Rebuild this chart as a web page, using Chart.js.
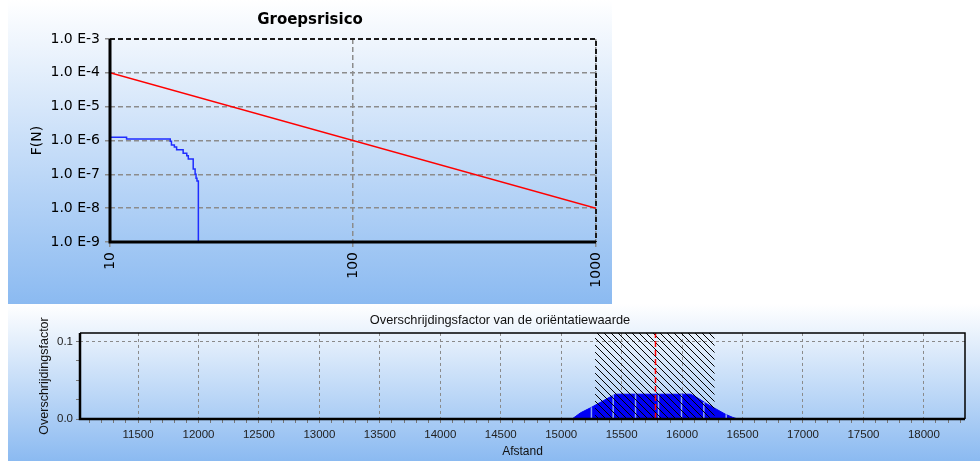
<!DOCTYPE html>
<html>
<head>
<meta charset="utf-8">
<script src="https://cdn.jsdelivr.net/npm/chart.js@4"></script>
<style>
  html, body { margin: 0; padding: 0; background: #ffffff; }
  body { width: 980px; height: 461px; position: relative; overflow: hidden; }
  .panel { position: absolute; background: linear-gradient(to bottom, #ffffff 0%, #8bbaf1 100%); }
  #p1 { left: 8px; top: 0; width: 604px; height: 304px; }
  #p2 { left: 8px; top: 304px; width: 972px; height: 157px; }
  canvas { display: block; }
</style>
</head>
<body>
<div class="panel" id="p1"><canvas id="c1" width="604" height="304"></canvas></div>
<div class="panel" id="p2"><canvas id="c2" width="972" height="157"></canvas></div>
<script>
// ---- Groepsrisico (FN-curve) ----
const groepsN = [10, 11.7, 17.7, 17.9, 18.4, 18.8, 20.0, 20.7, 21.0, 22.0, 22.4, 22.6, 22.8, 23.1, 24.2];
const groepsF = [1.56e-6, 1.24e-6, 1.11e-6, 9.5e-7, 7.4e-7, 6.4e-7, 5.35e-7, 4.2e-7, 3.55e-7, 2.84e-7, 1.44e-7, 1.0e-7, 7.6e-8, 6.3e-8, 1e-9];
const normN = [10, 1000];
const normF = [1e-4, 1e-8];
const fTicks = [1e-9, 1e-8, 1e-7, 1e-6, 1e-5, 1e-4, 1e-3];
const nTicks = [10, 100, 1000];

// ---- Overschrijdingsfactor along the route ----
const afstand = [15090, 15160, 15250, 15330, 15400, 15450, 16070, 16120, 16200, 16280, 16360, 16420, 16460];
const factor  = [0, 0.008, 0.015, 0.022, 0.028, 0.032, 0.032, 0.028, 0.020, 0.013, 0.006, 0.002, 0];
const stripX  = [15250, 15430, 15615, 15805, 15995, 16180, 16365];
const stripY  = [0.015, 0.031, 0.032, 0.032, 0.032, 0.022, 0.006];
const hatchX  = [15280, 16270];
const refX    = 15780;
const afstandMin = 11020, afstandMax = 18340;
const factorMax = 0.111;
const afstandLabels = [11500, 12000, 12500, 13000, 13500, 14000, 14500, 15000, 15500, 16000, 16500, 17000, 17500, 18000];
const afstandMinor = 100;
const factorLabels = [0, 0.1];
const factorMinor = [0, 0.025, 0.05, 0.075, 0.1];

const pts = (xs, ys) => xs.map((x, i) => ({ x, y: ys[i] }));

const frameTop = {
  id: 'frameTop',
  afterDatasetsDraw(chart) {
    const { ctx, chartArea: a } = chart;
    ctx.save();
    ctx.strokeStyle = '#1a1a1a'; ctx.lineWidth = 2; ctx.setLineDash([5, 3]);
    ctx.beginPath(); ctx.moveTo(a.left, a.top); ctx.lineTo(a.right, a.top); ctx.lineTo(a.right, a.bottom); ctx.stroke();
    ctx.setLineDash([]); ctx.strokeStyle = '#000'; ctx.lineWidth = 3;
    ctx.beginPath(); ctx.moveTo(a.left, a.top); ctx.lineTo(a.left, a.bottom); ctx.lineTo(a.right, a.bottom); ctx.stroke();
    ctx.restore();
  }
};

const frameBottom = {
  id: 'frameBottom',
  afterDatasetsDraw(chart) {
    const { ctx, chartArea: a } = chart;
    ctx.save();
    ctx.strokeStyle = '#000'; ctx.lineWidth = 1.5;
    ctx.beginPath(); ctx.moveTo(a.left, a.top); ctx.lineTo(a.right, a.top); ctx.lineTo(a.right, a.bottom); ctx.stroke();
    ctx.lineWidth = 2.5;
    ctx.beginPath(); ctx.moveTo(a.left, a.top); ctx.lineTo(a.left, a.bottom); ctx.lineTo(a.right, a.bottom); ctx.stroke();
    ctx.restore();
  }
};

const topFont = { family: 'DejaVu Sans', size: 14 };

new Chart(document.getElementById('c1'), {
  type: 'scatter',
  data: {
    datasets: [
      { label: 'Oriëntatiewaarde', data: pts(normN, normF), showLine: true,
        borderColor: '#ff0000', borderWidth: 1.5, pointRadius: 0 },
      { label: 'Groepsrisico', data: pts(groepsN, groepsF), showLine: true, stepped: 'after',
        borderColor: '#1f2dff', borderWidth: 1.5, pointRadius: 0 }
    ]
  },
  options: {
    responsive: false, animation: false, devicePixelRatio: 1,
    layout: { padding: 0 },
    plugins: {
      legend: { display: false }, tooltip: { enabled: false },
      title: { display: true, text: 'Groepsrisico', color: '#000',
        font: { family: 'DejaVu Sans', size: 15, weight: 'bold' }, padding: { top: 11, bottom: 10 } }
    },
    scales: {
      x: {
        type: 'logarithmic', min: 10, max: 1000,
        afterBuildTicks: s => { s.ticks = nTicks.map(v => ({ value: v })); },
        afterFit: s => { s.height = 62; s.paddingLeft = 0; s.paddingRight = 16; },
        ticks: { autoSkip: false, minRotation: 90, maxRotation: 90, padding: 5, color: '#000', font: topFont,
          callback: v => String(v) },
        grid: { color: '#8c8c8c', lineWidth: 1.5, tickLength: 5, tickColor: '#8c8c8c' },
        border: { display: false, dash: [5, 3] }
      },
      y: {
        type: 'logarithmic', min: 1e-9, max: 1e-3,
        afterBuildTicks: s => { s.ticks = fTicks.map(v => ({ value: v })); },
        afterFit: s => { s.width = 102; },
        ticks: { autoSkip: false, padding: 5, color: '#000', font: topFont,
          callback: v => '1.0 E' + Math.round(Math.log10(v)) },
        grid: { color: '#8c8c8c', lineWidth: 1.5, tickLength: 5, tickColor: '#8c8c8c' },
        border: { display: false, dash: [5, 3] },
        title: { display: true, text: 'F(N)', color: '#000', font: topFont, padding: { top: 20.6, bottom: 0 } }
      }
    }
  },
  plugins: [frameTop]
});

// diagonal hatch fill for the section where the orientation value is exceeded
const ctx2 = document.getElementById('c2').getContext('2d');
function hatch() {
  const n = 7, c = document.createElement('canvas');
  c.width = n; c.height = n;
  const g = c.getContext('2d');
  g.strokeStyle = '#000'; g.lineWidth = 1;
  g.beginPath();
  g.moveTo(0, 0); g.lineTo(n, n);
  g.moveTo(-1, n - 1); g.lineTo(1, n + 1);
  g.moveTo(n - 1, -1); g.lineTo(n + 1, 1);
  g.stroke();
  return ctx2.createPattern(c, 'repeat');
}

const botFont = { family: 'Liberation Sans', size: 11.5 };
const stripData = stripX.flatMap((x, i) => [{ x, y: 0 }, { x, y: stripY[i] }, { x, y: null }]);

new Chart(ctx2, {
  type: 'scatter',
  data: {
    datasets: [
      { label: 'referentie', data: [{ x: refX, y: 0 }, { x: refX, y: factorMax }], showLine: true,
        borderColor: '#ff0000', borderWidth: 1.5, borderDash: [6, 3], pointRadius: 0 },
      { label: 'overschrijding', data: pts(hatchX, [factorMax, factorMax]), showLine: true,
        fill: 'origin', backgroundColor: hatch(), borderWidth: 0, pointRadius: 0 },
      { label: 'segmenten', data: stripData, showLine: true, spanGaps: false,
        borderColor: '#8fa8f0', borderWidth: 1.5, pointRadius: 0 },
      { label: 'Overschrijdingsfactor', data: pts(afstand, factor), showLine: true,
        fill: 'origin', backgroundColor: '#0000f5', borderColor: '#0000f5', borderWidth: 1, pointRadius: 0 }
    ]
  },
  options: {
    responsive: false, animation: false, devicePixelRatio: 1,
    layout: { padding: { left: 12, right: 0, top: 0, bottom: 0 } },
    plugins: {
      legend: { display: false }, tooltip: { enabled: false },
      title: { display: true, text: 'Overschrijdingsfactor van de oriëntatiewaarde', color: '#111',
        font: { family: 'Liberation Sans', size: 12.8, weight: 'normal' }, padding: { top: 9, bottom: 4.6 } }
    },
    scales: {
      x: {
        type: 'linear', min: afstandMin, max: afstandMax,
        afterBuildTicks: s => {
          const t = [];
          for (let v = Math.ceil(afstandMin / afstandMinor) * afstandMinor; v <= afstandMax; v += afstandMinor) t.push({ value: v });
          s.ticks = t;
        },
        afterFit: s => { s.height = 42; s.paddingLeft = 0; s.paddingRight = 15; },
        ticks: { autoSkip: false, minRotation: 0, maxRotation: 0, padding: 5, color: '#222', font: botFont,
          callback: v => afstandLabels.includes(v) ? String(v) : '' },
        grid: {
          color: c => (c.tick && afstandLabels.includes(c.tick.value)) ? '#8a8a8a' : 'rgba(0,0,0,0)',
          tickColor: '#777', lineWidth: 1, tickLength: 4
        },
        border: { display: false, dash: [3, 3] },
        title: { display: true, text: 'Afstand', color: '#111',
          font: { family: 'Liberation Sans', size: 12 }, padding: { top: 0, bottom: 2 } }
      },
      y: {
        type: 'linear', min: 0, max: factorMax,
        afterBuildTicks: s => { s.ticks = factorMinor.map(v => ({ value: v })); },
        afterFit: s => { s.width = 60; },
        ticks: { autoSkip: false, padding: 3, color: '#222', font: botFont,
          callback: v => factorLabels.includes(v) ? v.toFixed(1) : '' },
        grid: {
          color: c => (c.tick && c.tick.value === 0.1) ? '#8a8a8a' : 'rgba(0,0,0,0)',
          tickColor: '#777', lineWidth: 1, tickLength: 4
        },
        border: { display: false, dash: [3, 3] },
        title: { display: true, text: 'Overschrijdingsfactor', color: '#111',
          font: { family: 'Liberation Sans', size: 12.5 }, padding: { top: 17.5, bottom: 0 } }
      }
    }
  },
  plugins: [frameBottom]
});
</script>
</body>
</html>
